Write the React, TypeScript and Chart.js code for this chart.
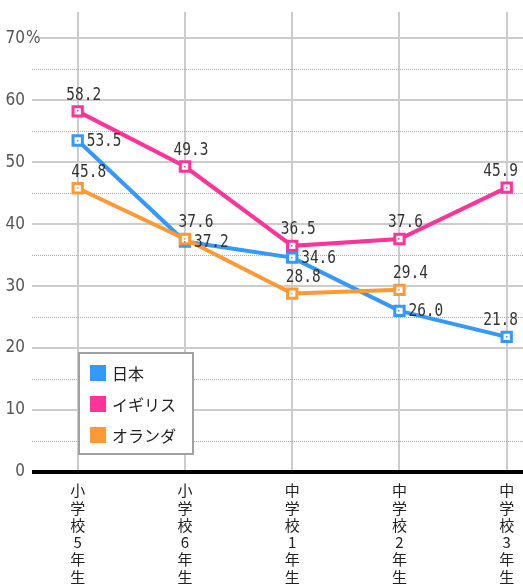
import React, { useEffect, useRef } from 'react';
import { Chart, registerables } from 'chart.js';

Chart.register(...registerables);

const categories = ['小学校5年生', '小学校6年生', '中学校1年生', '中学校2年生', '中学校3年生'];
const seriesNames = ['日本', 'イギリス', 'オランダ'];
const japanValues = [53.5, 37.2, 34.6, 26.0, 21.8];
const ukValues = [58.2, 49.3, 36.5, 37.6, 45.9];
const netherlandsValues: (number | null)[] = [45.8, 37.6, 28.8, 29.4, null];
const yTickValues = [0, 5, 10, 15, 20, 25, 30, 35, 40, 45, 50, 55, 60, 65, 70];
const seriesColors = ['#3399ff', '#ff3399', '#ff9933'];

const LABEL_FONT = '17px "DejaVu Sans Mono"';
const TICK_FAMILY = '"Liberation Sans Narrow", "DejaVu Sans Condensed", "DejaVu Sans Mono"';

const valueLabelPlugin = {
  id: 'valueLabels',
  afterDatasetsDraw(chart: any) {
    const ctx = chart.ctx;
    const right = chart.chartArea.right;
    ctx.save();
    ctx.font = LABEL_FONT;
    ctx.fillStyle = '#333';
    ctx.textBaseline = 'middle';
    ctx.textAlign = 'left';
    chart.data.datasets.forEach((ds: any, di: number) => {
      const meta = chart.getDatasetMeta(di);
      meta.data.forEach((pt: any, i: number) => {
        const v = ds.data[i]?.y;
        if (v === null || v === undefined) return;
        ctx.fillStyle = ds.borderColor;
        ctx.fillRect(Math.round(pt.x) - 1, Math.round(pt.y) - 1, 1.5, 1.5);
        ctx.fillStyle = '#333';
        const txt = v.toFixed(1);
        const w = ctx.measureText(txt).width * 0.85;
        let tx: number, ty: number;
        if (ds.labelPos === 'right' && pt.x + 9 + w < right - 2) {
          tx = pt.x + 9;
          ty = pt.y;
        } else {
          tx = pt.x + (ds.labelDx ?? 6) - w / 2;
          ty = pt.y - 17;
        }
        if (tx + w > right - 5) tx = right - 5 - w;
        ctx.save();
        ctx.translate(tx, ty);
        ctx.scale(0.85, 1);
        ctx.fillText(txt, 0, 1);
        ctx.restore();
      });
    });
    ctx.restore();
  },
};

const extrasPlugin = {
  id: 'extras',
  afterDraw(chart: any) {
    const ctx = chart.ctx;
    const yScale = chart.scales.y;
    const y70 = yScale.getPixelForValue(70);
    ctx.save();
    ctx.fillStyle = '#ffffff';
    ctx.fillRect(26, y70 - 3, 14, 6);
    ctx.font = '17px ' + TICK_FAMILY;
    ctx.fillStyle = '#555';
    ctx.textBaseline = 'middle';
    ctx.textAlign = 'left';
    ctx.fillText('%', 26, y70);

    // legend box
    const bx = 79, by = 353, bw = 114, bh = 101;
    ctx.fillStyle = '#ffffff';
    ctx.fillRect(bx, by, bw, bh);
    ctx.strokeStyle = '#a0a0a0';
    ctx.lineWidth = 2;
    ctx.strokeRect(bx, by, bw, bh);
    ctx.font = '16px "Noto Sans CJK JP"';
    chart.data.datasets.forEach((ds: any, i: number) => {
      const yc = by + 20 + i * 31;
      ctx.fillStyle = ds.borderColor;
      ctx.fillRect(bx + 11, yc - 8, 16, 16);
      ctx.fillStyle = '#222';
      ctx.fillText(ds.label, bx + 33, yc + 1);
    });
    ctx.restore();
  },
};

export default function App() {
  const ref = useRef<HTMLCanvasElement>(null);
  useEffect(() => {
    document.body.style.margin = '0';
    const toPts = (arr: (number | null)[]) => arr.map((v, i) => ({ x: i, y: v }));
    const chart = new Chart(ref.current as HTMLCanvasElement, {
      type: 'line',
      data: {
        datasets: [
          { label: seriesNames[0], data: toPts(japanValues), labelPos: 'right', labelDx: 9, order: 3 },
          { label: seriesNames[1], data: toPts(ukValues), labelPos: 'above', labelDx: 6, order: 2 },
          { label: seriesNames[2], data: toPts(netherlandsValues), labelPos: 'above', labelDx: 11, order: 1 },
        ].map((d: any, i) => ({
          ...d,
          borderColor: seriesColors[i],
          backgroundColor: '#ffffff',
          pointBackgroundColor: '#ffffff',
          pointBorderColor: seriesColors[i],
          borderWidth: 4,
          pointStyle: 'rect',
          pointRadius: 6.6,
          pointBorderWidth: 3,
          pointHoverRadius: 6.6,
          tension: 0,
          fill: false,
        })) as any,
      },
      options: {
        animation: false,
        responsive: false,
        devicePixelRatio: 1,
        layout: { autoPadding: false, padding: { top: 12, left: 0, right: 0, bottom: 0 } },
        plugins: {
          legend: { display: false },
          tooltip: { enabled: false },
        },
        scales: {
          x: {
            type: 'linear',
            min: -0.426,
            max: 4.152,
            afterFit: (s: any) => { s.height = 115; s.paddingLeft = 0; s.paddingRight = 0; },
            afterBuildTicks: (s: any) => { s.ticks = categories.map((_, i) => ({ value: i })); },
            grid: { color: '#cccccc', lineWidth: 2, drawTicks: false },
            border: { display: false },
            ticks: {
              autoSkip: false,
              maxRotation: 0,
              padding: 10,
              color: '#222',
              font: { family: '"Noto Sans CJK JP"', size: 15, lineHeight: 1.15 },
              callback: (v: any) => (categories[v] ? Array.from(categories[v]) : ''),
            },
          },
          y: {
            min: 0,
            max: 74.24,
            afterFit: (s: any) => { s.width = 32; s.paddingTop = 0; s.paddingBottom = 0; },
            afterBuildTicks: (s: any) => { s.ticks = yTickValues.map((v) => ({ value: v })); },
            grid: {
              drawTicks: false,
              color: (c: any) => (c.tick.value === 0 ? '#000000' : c.tick.value % 10 === 0 ? '#cccccc' : '#aaaaaa'),
              lineWidth: (c: any) => (c.tick.value === 0 ? 4 : c.tick.value % 10 === 0 ? 2 : 1),
            },
            border: {
              display: false,
              dash: (c: any) => (c.tick && c.tick.value % 10 !== 0 ? [1, 1] : []),
            } as any,
            ticks: {
              padding: 7,
              color: '#555',
              font: { family: TICK_FAMILY, size: 17 },
              callback: (v: any) => (v % 10 === 0 ? String(v) : ''),
            },
          },
        },
      },
      plugins: [valueLabelPlugin, extrasPlugin],
    } as any);
    return () => chart.destroy();
  }, []);
  return (
    <div style={{ position: 'absolute', left: 0, top: 0, width: 523, height: 587 }}>
      <canvas ref={ref} width={523} height={587} style={{ display: 'block', width: 523, height: 587 }} />
    </div>
  );
}
